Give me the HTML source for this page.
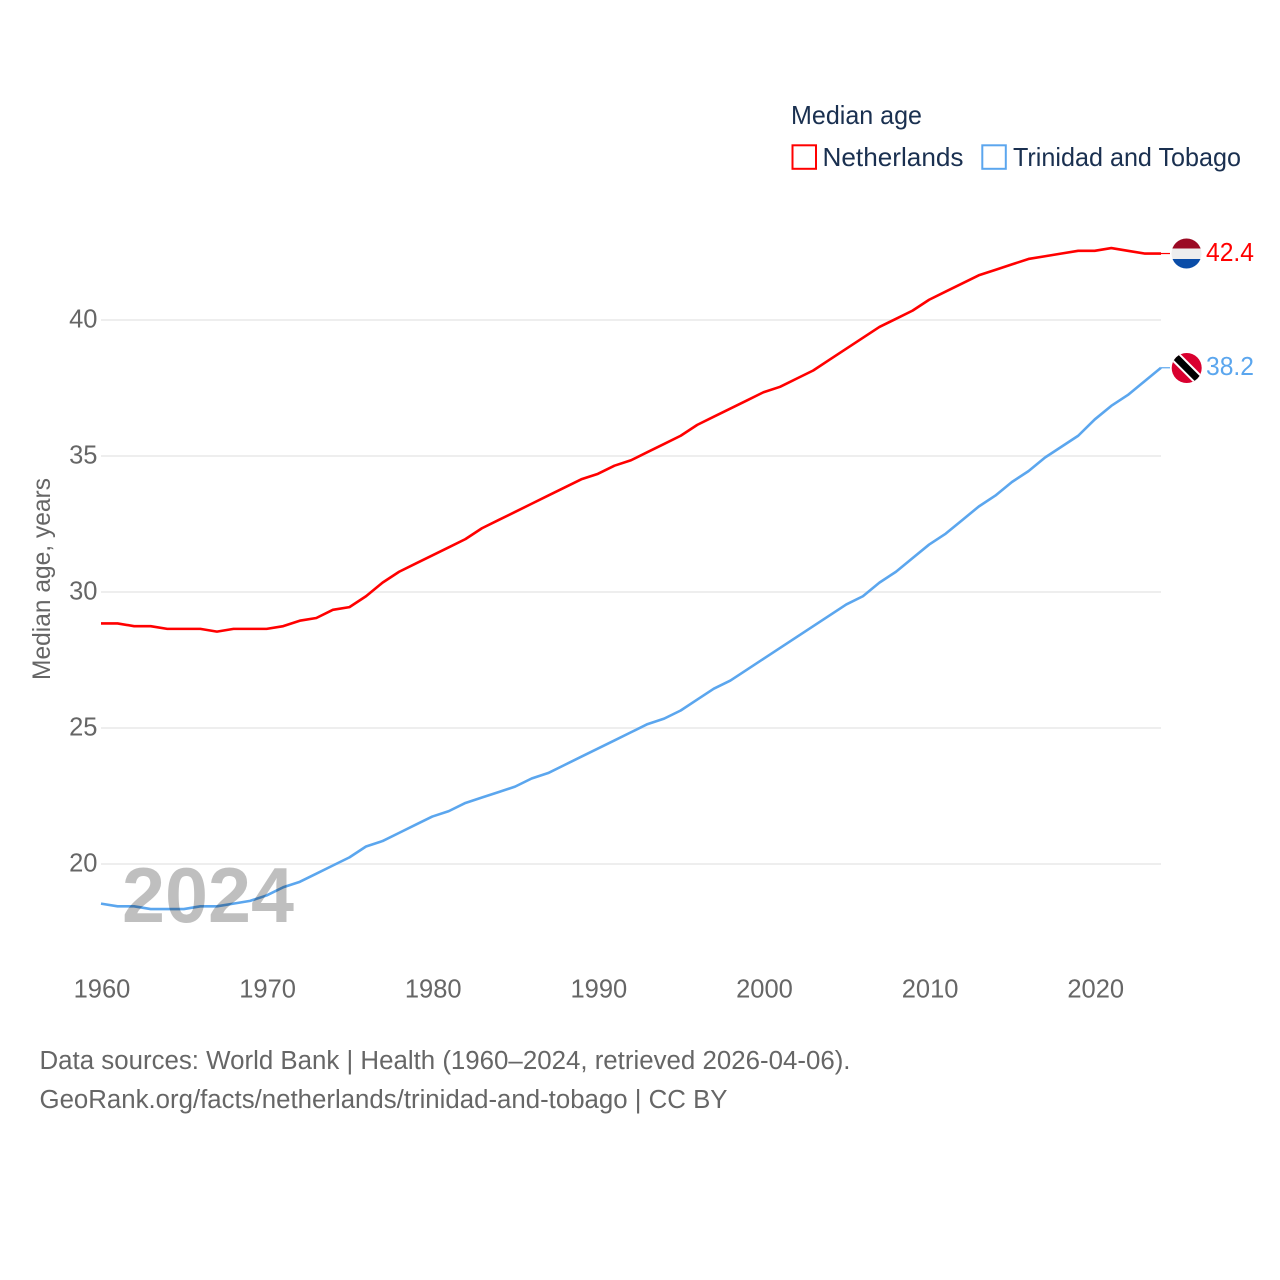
<!DOCTYPE html>
<html lang="en">
<head>
<meta charset="utf-8">
<title>Median age: Netherlands and Trinidad and Tobago</title>
<style>
html,body{margin:0;padding:0;background:#fff;}
svg{display:block;}
text{font-family:"Liberation Sans",sans-serif;}
</style>
</head>
<body>
<svg id="chart" xmlns="http://www.w3.org/2000/svg" width="1280" height="1280" viewBox="0 0 1280 1280">
  <defs>
    <clipPath id="clip-nl"><circle cx="1186.500" cy="253.500" r="15"/></clipPath>
    <clipPath id="clip-tt"><circle cx="1186.700" cy="368" r="15"/></clipPath>
  </defs>
  <rect x="0" y="0" width="1280" height="1280" fill="#fff"/>

  <g id="grid"></g>
  <g id="y-ticks"></g>
  <g id="x-ticks"></g>

  <text transform="translate(50 680) rotate(-90)" font-size="25" fill="#666" textLength="202" lengthAdjust="spacingAndGlyphs">Median age, years</text>

  <g id="series"></g>

  <text x="122" y="922" font-size="78" font-weight="700" fill="#000" fill-opacity="0.25" textLength="172" lengthAdjust="spacingAndGlyphs">2024</text>

  <g>
    <text x="791" y="124" font-size="26" fill="#1a3050" textLength="131" lengthAdjust="spacingAndGlyphs">Median age</text>
    <rect x="792.500" y="145.300" width="23.500" height="23.500" fill="none" stroke="#ff0000" stroke-width="2"/>
    <text x="822.500" y="166" font-size="26" fill="#1a3050" textLength="141" lengthAdjust="spacingAndGlyphs">Netherlands</text>
    <rect x="982.300" y="145.300" width="23.500" height="23.500" fill="none" stroke="#5ba6ee" stroke-width="2"/>
    <text x="1013" y="166" font-size="26" fill="#1a3050" textLength="228" lengthAdjust="spacingAndGlyphs">Trinidad and Tobago</text>
  </g>

  <g clip-path="url(#clip-nl)">
    <rect x="1171" y="238" width="31" height="10.500" fill="#9b0a24"/>
    <rect x="1171" y="248.500" width="31" height="10.500" fill="#eeeeee"/>
    <rect x="1171" y="259" width="31" height="10.500" fill="#0a4da8"/>
  </g>
  <text x="1206" y="261" font-size="25.500" fill="#ff0000" textLength="48" lengthAdjust="spacingAndGlyphs">42.4</text>

  <g clip-path="url(#clip-tt)">
    <rect x="1171" y="352" width="32" height="32" fill="#d9002f"/>
    <line x1="1171" y1="352.300" x2="1202.400" y2="383.700" stroke="#ffffff" stroke-width="11"/>
    <line x1="1171" y1="352.300" x2="1202.400" y2="383.700" stroke="#000000" stroke-width="7"/>
  </g>
  <text x="1206" y="375" font-size="25.500" fill="#5ba6ee" textLength="48" lengthAdjust="spacingAndGlyphs">38.2</text>

  <text x="39.500" y="1069" font-size="25.500" fill="#666" textLength="811" lengthAdjust="spacingAndGlyphs">Data sources: World Bank | Health (1960–2024, retrieved 2026-04-06).</text>
  <text x="39.500" y="1108" font-size="25.500" fill="#666" textLength="688" lengthAdjust="spacingAndGlyphs">GeoRank.org/facts/netherlands/trinidad-and-tobago | CC BY</text>
</svg>
<script>
const startYear = 1960;
const netherlandsValues = [28.8,28.8,28.7,28.7,28.6,28.6,28.6,28.5,28.6,28.6,28.6,28.7,28.9,29.0,29.3,29.4,29.8,30.3,30.7,31.0,31.3,31.6,31.9,32.3,32.6,32.9,33.2,33.5,33.8,34.1,34.3,34.6,34.8,35.1,35.4,35.7,36.1,36.4,36.7,37.0,37.3,37.5,37.8,38.1,38.5,38.9,39.3,39.7,40.0,40.3,40.7,41.0,41.3,41.6,41.8,42.0,42.2,42.3,42.4,42.5,42.5,42.6,42.5,42.4,42.4];
const trinidadValues = [18.5,18.4,18.4,18.3,18.3,18.3,18.4,18.4,18.5,18.6,18.8,19.1,19.3,19.6,19.9,20.2,20.6,20.8,21.1,21.4,21.7,21.9,22.2,22.4,22.6,22.8,23.1,23.3,23.6,23.9,24.2,24.5,24.8,25.1,25.3,25.6,26.0,26.4,26.7,27.1,27.5,27.9,28.3,28.7,29.1,29.5,29.8,30.3,30.7,31.2,31.7,32.1,32.6,33.1,33.5,34.0,34.4,34.9,35.3,35.7,36.3,36.8,37.2,37.7,38.2];
const yTickValues = [20,25,30,35,40];
const xTickValues = [1960,1970,1980,1990,2000,2010,2020];

const NS = 'http://www.w3.org/2000/svg';
function xScale(year){ return 101 + (year - 1960) * 16.5625; }
function yScale(value){ return 864 - (value - 20) * 27.2; }
function make(tag, parent, attrs){
  const el = document.createElementNS(NS, tag);
  for (const k in attrs) el.setAttribute(k, attrs[k]);
  parent.appendChild(el);
  return el;
}

const gridGroup = document.getElementById('grid');
const yTickGroup = document.getElementById('y-ticks');
yTickValues.forEach(function(v){
  const line = make('line', gridGroup, {x1:101, x2:1161, y1:yScale(v), y2:yScale(v), stroke:'#eeeeee', 'stroke-width':2});
  
  
  const label = make('text', yTickGroup, {x:97.5, y:yScale(v) + 7.5, 'text-anchor':'end', 'font-size':25.5, fill:'#666'});
  
  
  label.textContent = String(v);
});

const xTickGroup = document.getElementById('x-ticks');
xTickValues.forEach(function(v){
  const label = make('text', xTickGroup, {x:xScale(v) + 1, y:997.5, 'text-anchor':'middle', 'font-size':25.5, fill:'#666'});
  
  
  label.textContent = String(v);
});

const seriesGroup = document.getElementById('series');
const lineShift = -1.2;
function drawSeries(values, color){
  const pts = values.map(function(v, i){ return xScale(startYear + i).toFixed(2) + ',' + (yScale(v) + lineShift).toFixed(2); });
  const path = make('polyline', seriesGroup, {points:pts.join(' '), fill:'none', stroke:color, 'stroke-width':2.6, 'stroke-linejoin':'round'});
  return path;
}
function drawConnector(values, color){
  const last = values[values.length - 1];
  const lastX = xScale(startYear + values.length - 1);
  const yEnd = yScale(last) + lineShift;
  return make('line', seriesGroup, {x1:lastX, x2:lastX + 9, y1:yEnd, y2:yEnd, stroke:color, 'stroke-width':1.2});
}
const netherlandsLine = drawSeries(netherlandsValues, '#ff0000');


const netherlandsConnector = drawConnector(netherlandsValues, '#ff0000');


const trinidadLine = drawSeries(trinidadValues, '#5ba6ee');


const trinidadConnector = drawConnector(trinidadValues, '#5ba6ee');


</script>
</body>
</html>
